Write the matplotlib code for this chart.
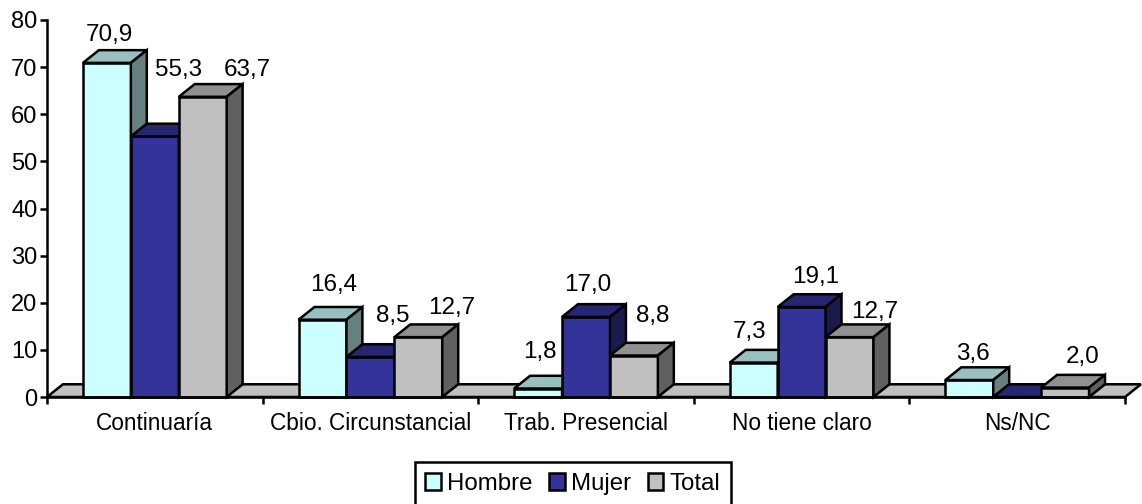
import matplotlib
matplotlib.use("Agg")
import matplotlib.pyplot as plt
from matplotlib.patches import Polygon, Patch

plt.rcParams['font.family'] = ['Liberation Sans', 'DejaVu Sans']

categories = ["Continuaría", "Cbio. Circunstancial", "Trab. Presencial", "No tiene claro", "Ns/NC"]
hombre = [70.9, 16.4, 1.8, 7.3, 3.6]
mujer = [55.3, 8.5, 17.0, 19.1, 0.0]
total = [63.7, 12.7, 8.8, 12.7, 2.0]
series_names = ["Hombre", "Mujer", "Total"]
y_ticks = [0, 10, 20, 30, 40, 50, 60, 70, 80]

# front, top and side colours of each series
front_colors = ["#CCFFFF", "#333399", "#C0C0C0"]
top_colors = ["#99C0C0", "#262673", "#909090"]
side_colors = ["#668080", "#1A1A4D", "#606060"]

# label offsets in pixels from the top centre of each bar
label_dx = [[2, 11, 2, -4, 4], [24, 22, 2, 14, 0], [45, 33, 19, 25, 18]]
label_dy = [[28, 35, 37, 31, 26], [66, 41, 32, 30, 0], [27, 29, 40, 25, 31]]

bar_w = 1 / 4.5
gap = (1 - 3 * bar_w) / 2
depth_x = 0.074
depth_y = 2.7
lw = 1.8


def box(ax, x, h, i):
    x2 = x + bar_w
    dx, dy = depth_x, depth_y
    faces = [
        ([(x, 0), (x2, 0), (x2, h), (x, h)], front_colors[i]),
        ([(x, h), (x2, h), (x2 + dx, h + dy), (x + dx, h + dy)], top_colors[i]),
        ([(x2, 0), (x2 + dx, dy), (x2 + dx, h + dy), (x2, h)], side_colors[i]),
    ]
    for pts, color in faces:
        ax.add_patch(Polygon(pts, closed=True, facecolor=color, edgecolor="black",
                             linewidth=lw, joinstyle="miter", clip_on=False, zorder=3))


fig = plt.figure(figsize=(11.42, 5.04), dpi=100)
ax = fig.add_axes([47 / 1142, (504 - 397) / 504, (1125 - 47) / 1142, 377 / 504])
ax.set_xlim(0, 5)
ax.set_ylim(0, 80)

# floor of the 3d plot
ax.add_patch(Polygon([(0, 0), (5, 0), (5 + depth_x, depth_y), (depth_x, depth_y)], closed=True,
                     facecolor="#C0C0C0", edgecolor="black", linewidth=lw,
                     joinstyle="miter", clip_on=False, zorder=2))

values = [hombre, mujer, total]
for c in range(len(categories)):
    for i in range(3):
        x = c + gap + i * bar_w
        v = values[i][c]
        box(ax, x, v, i)
        if v > 0:
            ax.annotate(f"{v:.1f}".replace(".", ","), xy=(x + bar_w / 2, v),
                        xytext=(label_dx[i][c], label_dy[i][c]), textcoords="offset pixels",
                        ha="center", va="center", fontsize=17.5, color="black", zorder=5)

for side in ["top", "right"]:
    ax.spines[side].set_visible(False)
for side in ["left", "bottom"]:
    ax.spines[side].set_linewidth(lw)
    ax.spines[side].set_zorder(4)

ax.set_yticks(y_ticks)
ax.tick_params(axis="y", labelsize=17, length=5, width=lw, pad=2)
ax.set_xticks(range(6))
ax.set_xticklabels([])
ax.set_xticks([c + 0.5 for c in range(5)], minor=True)
ax.set_xticklabels(categories, minor=True)
ax.tick_params(axis="x", which="major", length=5, width=lw)
ax.tick_params(axis="x", which="minor", length=0, labelsize=16.3, pad=11)

handles = [Patch(facecolor=front_colors[i], edgecolor="black", linewidth=lw, label=series_names[i])
           for i in range(3)]
leg = fig.legend(handles=handles, ncol=3, loc="center", bbox_to_anchor=(573 / 1142, (504 - 484) / 504),
                 fontsize=17.3, frameon=True, fancybox=False, framealpha=1, edgecolor="black",
                 handlelength=0.65, handleheight=0.7, handletextpad=0.27, columnspacing=0.68,
                 borderpad=0.45, borderaxespad=0)
leg.get_frame().set_linewidth(lw)

fig.savefig("out.png", dpi=100)
